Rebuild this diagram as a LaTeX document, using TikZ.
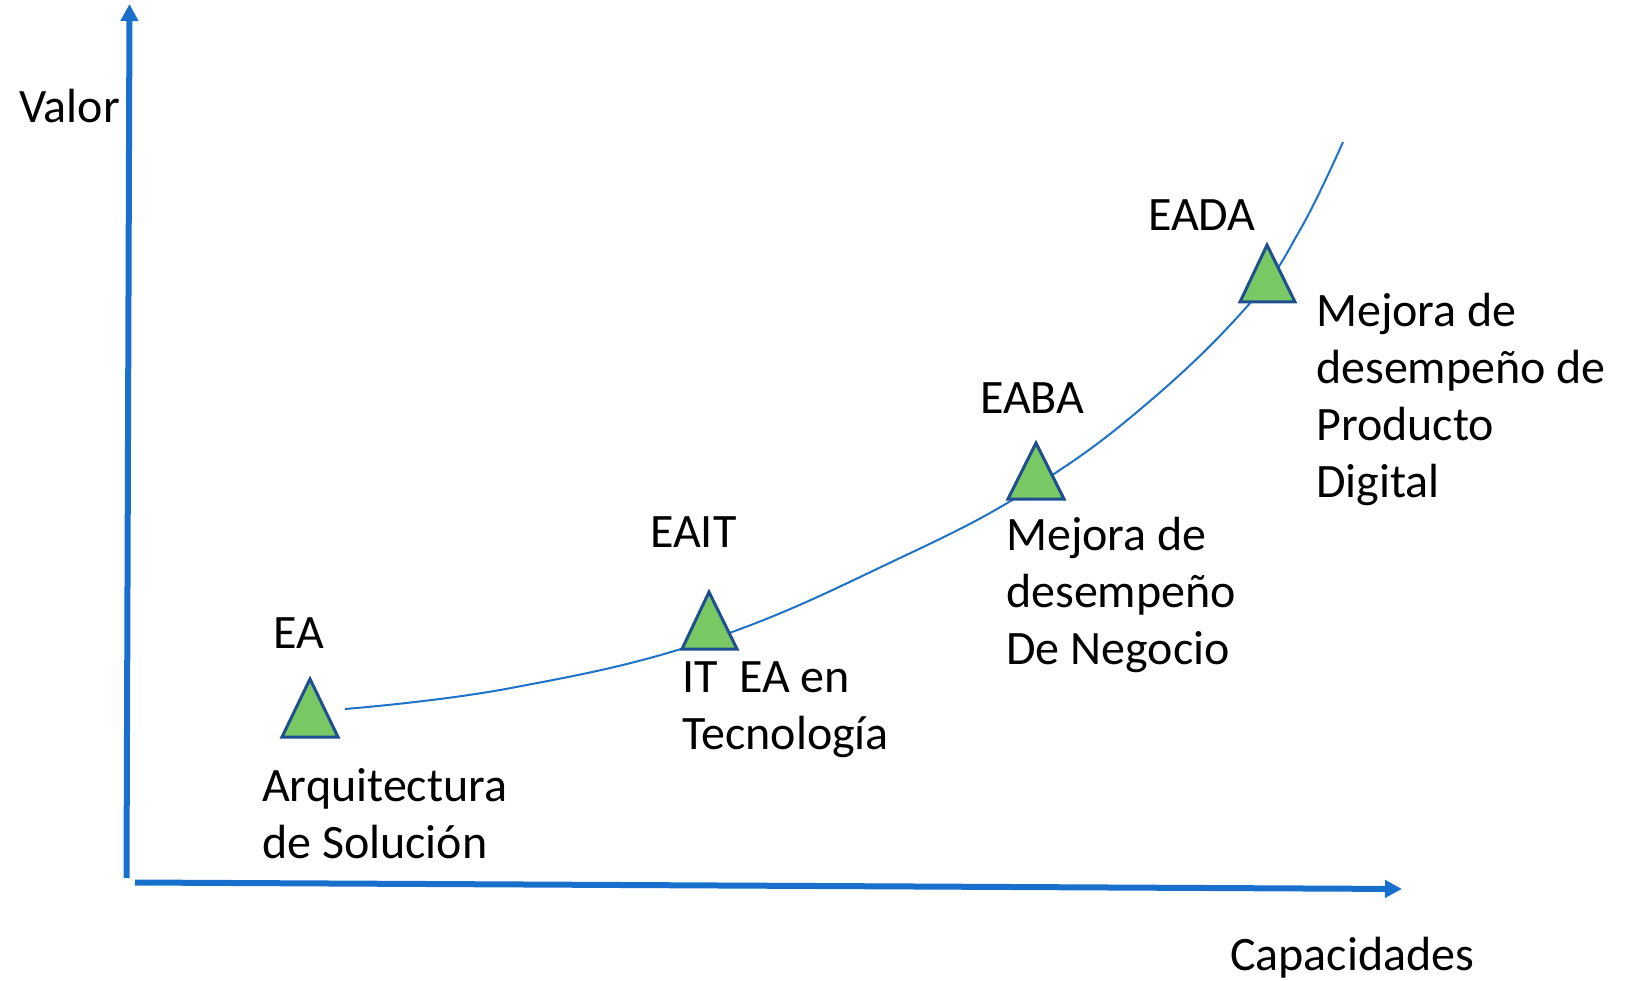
\documentclass[tikz,border=0pt]{standalone}
\usepackage{fontspec}
\setmainfont{Carlito}
\usetikzlibrary{arrows.meta}
\definecolor{axisblue}{RGB}{24,112,204}
\definecolor{curveblue}{RGB}{30,115,200}
\definecolor{triedge}{RGB}{30,80,145}
\definecolor{trifill}{RGB}{122,200,100}
\begin{document}
\begin{tikzpicture}[x=1pt,y=-1pt,
  axis/.style={draw=axisblue, line width=6pt, -{Triangle[length=17pt,width=17pt]}},
  curve/.style={draw=curveblue, line width=2pt},
  tri/.style={draw=triedge, fill=trifill, line width=3pt, line join=miter},
  lbl/.style={font=\fontsize{48}{57}\selectfont, inner sep=0pt, anchor=base west, align=left}]
\useasboundingbox (0,0) rectangle (1635,981);
% axes
\coordinate (yb) at (126.5,878);
\coordinate (yt) at (129.5,4);
\coordinate (xl) at (135,882.5);
\coordinate (xr) at (1402,889);
\draw[axis] (yb) -- (yt);
\draw[axis] (xl) -- (xr);
% curve
\draw[curve] plot[smooth, tension=0.7] coordinates {(345,709) (511,688) (709,640) (900,558) (1035,486) (1150,401) (1251,302) (1300,230) (1343,142)};
% triangles
\draw[tri] (310,679) -- (338,737) -- (282,737) -- cycle;
\draw[tri] (709,592) -- (737,649) -- (682,649) -- cycle;
\draw[tri] (1036,443) -- (1064,499) -- (1008,499) -- cycle;
\draw[tri] (1267,245) -- (1295,302) -- (1240,302) -- cycle;
% labels
\node[lbl] (valor) at (19,123) {Valor};
\node[lbl] (cap) at (1230,970) {Capacidades};
\node[lbl] (ea) at (273,648) {EA};
\node[lbl] (eaD) at (262,858) {Arquitectura\\de Solución};
\node[lbl] (eait) at (650,547) {EAIT};
\node[lbl] (eaitD) at (682,749) {IT\ \ EA en\\Tecnología};
\node[lbl] (eaba) at (980,413) {EABA};
\node[lbl] (eabaD) at (1006,664) {Mejora de\\desempeño\\De Negocio};
\node[lbl] (eada) at (1148,231) {EADA};
\node[lbl] (eadaD) at (1316,497) {Mejora de\\desempeño de\\Producto\\Digital};
\end{tikzpicture}
\end{document}
